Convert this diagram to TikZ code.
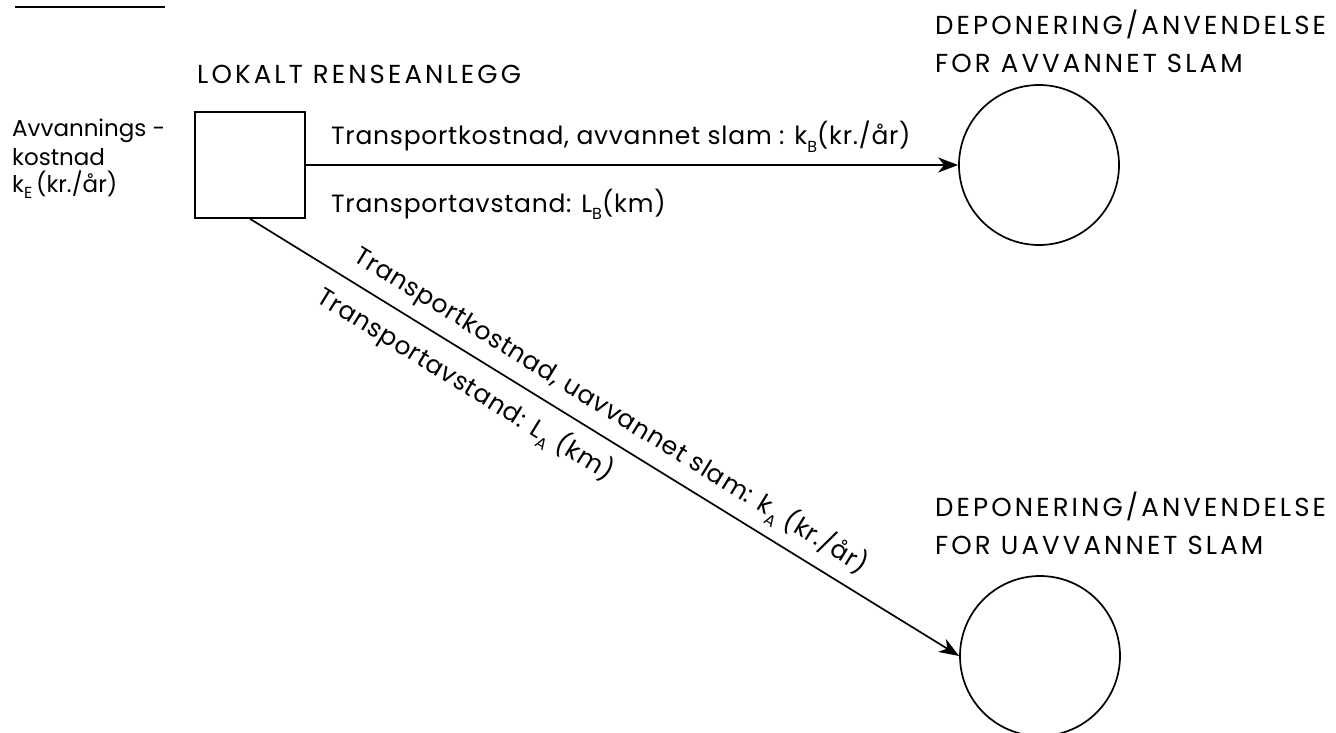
\documentclass[tikz,border=0pt]{standalone}
\usepackage{fontspec}
\setmainfont{Poppins}
\newfontfamily\capsfont[LetterSpace=12]{Poppins}
\newfontfamily\labfont[LetterSpace=3]{Poppins}
\usetikzlibrary{arrows.meta}
\newcommand\lsub[1]{\raisebox{-0.3em}{\fontsize{16}{16}\selectfont #1}}
\begin{document}
\begin{tikzpicture}[x=1pt,y=-1pt,
  thickline/.style={line width=1.7pt},
  conn/.style={line width=1.7pt, -{Stealth[length=20pt,width=15pt,inset=6pt]}},
  lab/.style={font=\fontsize{23}{28}\selectfont, inner sep=0pt},
  tlab/.style={font=\labfont\fontsize{25}{30}\selectfont, inner sep=0pt},
  caps/.style={font=\capsfont\fontsize{26}{38}\selectfont, inner sep=0pt, align=left},
]
\useasboundingbox (0,0) rectangle (1336,733);
% cut-off heading underline
\coordinate (u1) at (15,7);
\coordinate (u2) at (165,7);
\draw[line width=1.4pt] (u1) -- (u2);

\node[draw, thickline, minimum width=110pt, minimum height=106pt, inner sep=0pt] (box) at (250,165) {};
\node[draw, circle, thickline, minimum size=160pt, inner sep=0pt] (c1) at (1039,165) {};
\node[draw, circle, thickline, minimum size=160pt, inner sep=0pt] (c2) at (1040,656) {};

\node[caps, anchor=base west] (lokalt) at (197,84) {LOKALT RENSEANLEGG};
\node[caps, anchor=north west] (dep1) at (935,10) {DEPONERING/ANVENDELSE\\FOR AVVANNET SLAM};
\node[caps, anchor=north west] (dep2) at (935,492) {DEPONERING/ANVENDELSE\\FOR UAVVANNET SLAM};

\node[lab, anchor=base west] (l1) at (12,137) {Avvannings -};
\node[lab, anchor=base west] (l2) at (12,165) {kostnad};
\node[lab, anchor=base west] (l3) at (12,192) {k\lsub{E}\,(kr./år)};

\draw[conn] (box.east) -- (c1.west);
\node[tlab, anchor=base west] (tkB) at (331,145) {Transportkostnad, avvannet slam : k\lsub{B}(kr./år)};
\node[tlab, anchor=base west] (tlB) at (331,212) {Transportavstand: L\lsub{B}(km)};

\draw[conn] (box.south) -- (c2.west)
  node[tlab, pos=0.49, sloped, above=10pt] (tkA) {Transportkostnad, uavvannet slam: k\lsub{A} (kr./år)}
  node[tlab, pos=0.325, sloped, below=12pt] (tlA) {Transportavstand: L\lsub{A} (km)};
\end{tikzpicture}
\end{document}
